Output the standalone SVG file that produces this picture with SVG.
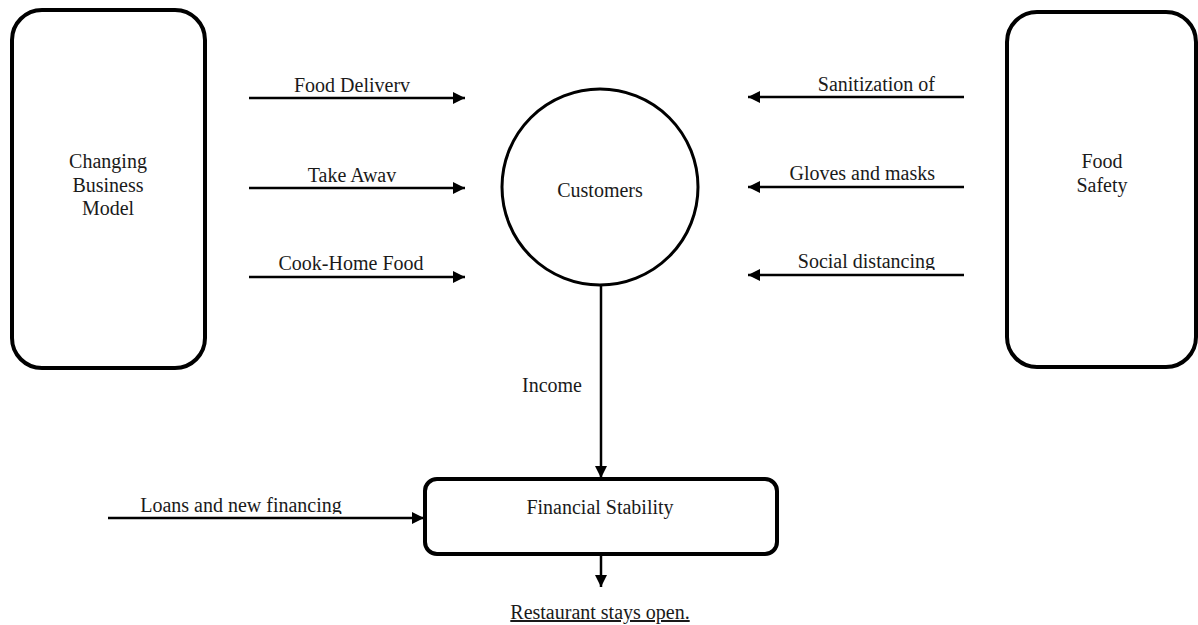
<svg xmlns="http://www.w3.org/2000/svg" width="1198" height="625" viewBox="0 0 1198 625">
<style>
.box{fill:#fff;stroke:#000;stroke-width:4}
.circ{fill:#fff;stroke:#000;stroke-width:3}
.edge{stroke:#000;stroke-width:2.5;fill:none}
text{font-family:"Liberation Serif","Times New Roman",serif;font-size:20px;fill:#1a1a1a}
.c{text-anchor:middle}
.e{text-anchor:end}
</style>
<defs>
<marker id="ah" markerUnits="userSpaceOnUse" markerWidth="13" markerHeight="13" refX="12" refY="6" orient="auto">
<path d="M0,0 L12,6 L0,12 z" fill="#000"/>
</marker>
<clipPath id="clipSoc" clipPathUnits="userSpaceOnUse"><rect x="780" y="240" width="170" height="30"/></clipPath>
<clipPath id="clipLoan" clipPathUnits="userSpaceOnUse"><rect x="120" y="480" width="240" height="34"/></clipPath>
</defs>
<rect width="1198" height="625" fill="#fff"/>
<g id="connectors">
<line class="edge" x1="249" y1="98" x2="465" y2="98" marker-end="url(#ah)"/>
<line class="edge" x1="249" y1="188" x2="465" y2="188" marker-end="url(#ah)"/>
<line class="edge" x1="249" y1="277" x2="465" y2="277" marker-end="url(#ah)"/>
<line class="edge" x1="964" y1="97" x2="748" y2="97" marker-end="url(#ah)"/>
<line class="edge" x1="964" y1="187" x2="748" y2="187" marker-end="url(#ah)"/>
<line class="edge" x1="964" y1="275" x2="748" y2="275" marker-end="url(#ah)"/>
<line class="edge" x1="601" y1="285" x2="601" y2="478" marker-end="url(#ah)"/>
<line class="edge" x1="108" y1="518" x2="424" y2="518" marker-end="url(#ah)"/>
<line class="edge" x1="601" y1="556" x2="601" y2="587" marker-end="url(#ah)"/>
<text class="c" x="352" y="92">Food Deliverv</text>
<text class="c" x="352" y="182">Take Awav</text>
<text class="c" x="351" y="270">Cook-Home Food</text>
<text class="e" x="935" y="91">Sanitization  of</text>
<text class="e" x="935" y="180">Gloves and masks</text>
<text class="e" x="935" y="268" clip-path="url(#clipSoc)">Social distancing</text>
<text class="c" x="552" y="392">Income</text>
<text class="c" x="241" y="512" clip-path="url(#clipLoan)">Loans and new financing</text>
</g>
<g id="changing-business-model">
<rect class="box" x="12" y="10" width="193" height="358" rx="30"/>
<text class="c" x="108" y="168">Changing</text>
<text class="c" x="108" y="192">Business</text>
<text class="c" x="108" y="215">Model</text>
</g>
<g id="food-safety">
<rect class="box" x="1007" y="12" width="189" height="355" rx="30"/>
<text class="c" x="1102" y="168">Food</text>
<text class="c" x="1102" y="192">Safety</text>
</g>
<g id="customers">
<circle class="circ" cx="600" cy="187" r="98"/>
<text class="c" x="600" y="197">Customers</text>
</g>
<g id="financial-stability">
<rect class="box" x="425" y="479" width="352" height="75" rx="12"/>
<text class="c" x="600" y="514">Financial Stability</text>
</g>
<g id="restaurant-stays-open">
<text class="c" x="600" y="619" text-decoration="underline">Restaurant stays open.</text>
</g>
</svg>
